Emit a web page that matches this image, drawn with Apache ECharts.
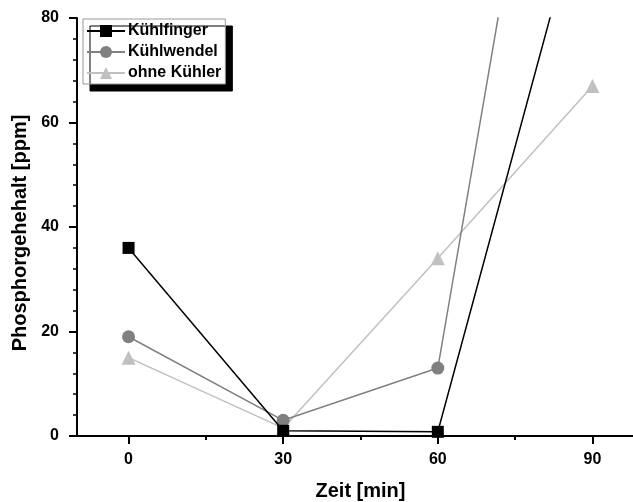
<!DOCTYPE html>
<html>
<head>
<meta charset="utf-8">
<script src="https://cdn.jsdelivr.net/npm/echarts@6/dist/echarts.min.js"></script>
<style>
  html, body { margin: 0; padding: 0; background: #fff; }
  #chart { width: 633px; height: 502px; }
</style>
</head>
<body>
<div id="chart"></div>
<script>
// Sampling times in minutes
const zeit = [0, 30, 60, 90];
// Phosphorus content per cooling setup (ppm)
const kuehlfinger = [36, 1, 0.8, 110];
const kuehlwendel = [19, 3, 13, 185];
const ohneKuehler = [15, 1.5, 34, 67];
// Tick positions
const xMajorTicks = [0, 30, 60, 90];
const xMinorTicks = [15, 45, 75];

const pairs = (xs, ys) => xs.map((x, i) => [x, ys[i]]);

const font = 'Liberation Sans, Arial, sans-serif';

const chart = echarts.init(document.getElementById('chart'), null, { renderer: 'canvas' });

const baseX = {
  type: 'value',
  min: -10,
  max: 100,
  position: 'bottom',
  splitLine: { show: false }
};

chart.setOption({
  backgroundColor: '#ffffff',
  animation: false,
  grid: { left: 77, top: 18, width: 567, bottom: 66, containLabel: false, outerBoundsMode: 'none' },
  legend: {
    left: 83,
    top: 19,
    orient: 'vertical',
    itemWidth: 38,
    itemHeight: 15,
    itemGap: 5,
    padding: [4, 4, 3, 3],
    backgroundColor: '#ffffff',
    borderColor: '#999999',
    borderWidth: 1,
    borderRadius: 0,
    shadowColor: '#000000',
    shadowBlur: 0,
    shadowOffsetX: 7,
    shadowOffsetY: 7,
    textStyle: { fontFamily: font, fontWeight: 'bold', fontSize: 16, color: '#000', padding: [0, 0, 0, -2] },
    data: ['Kühlfinger', 'Kühlwendel', 'ohne Kühler']
  },
  xAxis: [
    Object.assign({}, baseX, {
      name: 'Zeit [min]',
      nameLocation: 'middle',
      nameGap: 45,
      nameTextStyle: { fontFamily: font, fontWeight: 'bold', fontSize: 20, color: '#000' },
      axisLine: { onZero: false, lineStyle: { color: '#000', width: 2 } },
      axisTick: { customValues: xMajorTicks, length: 8, lineStyle: { color: '#000', width: 2 } },
      axisLabel: { customValues: xMajorTicks, margin: 16, fontFamily: font, fontWeight: 'bold', fontSize: 16, color: '#000' }
    }),
    Object.assign({}, baseX, {
      axisLine: { show: false, onZero: false },
      axisTick: { customValues: xMinorTicks, length: 4, lineStyle: { color: '#000', width: 2 } },
      axisLabel: { show: false }
    })
  ],
  yAxis: {
    type: 'value',
    min: 0,
    max: 80,
    interval: 20,
    name: 'Phosphorgehehalt [ppm]',
    nameLocation: 'middle',
    nameGap: 45,
    nameTextStyle: { fontFamily: font, fontWeight: 'bold', fontSize: 20, color: '#000', padding: [0, 12, 0, 0] },
    splitLine: { show: false },
    axisLine: { show: true, onZero: false, lineStyle: { color: '#000', width: 2 } },
    axisTick: { show: true, length: 8, lineStyle: { color: '#000', width: 2 } },
    minorTick: { show: true, splitNumber: 5, length: 4, lineStyle: { color: '#000', width: 1.5 } },
    axisLabel: { margin: 18, fontFamily: font, fontWeight: 'bold', fontSize: 16, color: '#000' }
  },
  series: [
    {
      name: 'Kühlfinger',
      type: 'line',
      z: 4,
      data: pairs(zeit, kuehlfinger),
      symbol: 'rect',
      symbolSize: 12,
      clip: true,
      lineStyle: { color: '#000000', width: 1.5 },
      itemStyle: { color: '#000000' }
    },
    {
      name: 'Kühlwendel',
      type: 'line',
      z: 3,
      data: pairs(zeit, kuehlwendel),
      symbol: 'circle',
      symbolSize: 13,
      clip: true,
      lineStyle: { color: '#808080', width: 1.5 },
      itemStyle: { color: '#808080' }
    },
    {
      name: 'ohne Kühler',
      type: 'line',
      z: 2,
      data: pairs(zeit, ohneKuehler),
      symbol: 'triangle',
      symbolSize: 14,
      clip: true,
      lineStyle: { color: '#c0c0c0', width: 1.5 },
      itemStyle: { color: '#c0c0c0' }
    }
  ]
});
</script>
</body>
</html>
